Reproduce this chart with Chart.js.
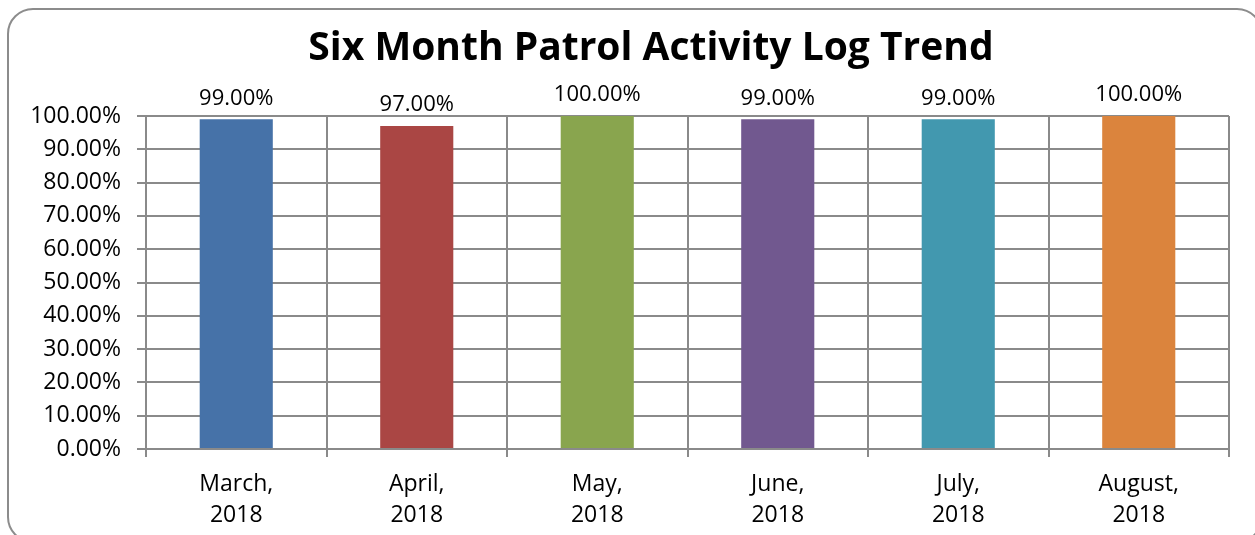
<!DOCTYPE html>
<html>
<head>
<meta charset="utf-8">
<script src="https://cdn.jsdelivr.net/npm/chart.js@4"></script>
<style>
    html, body { margin: 0; padding: 0; background: #fff; overflow: hidden; }
    #marco {
        position: absolute; left: 7px; top: 8px; width: 1256px; height: 535px;
        border: 2px solid #8c8c8c; border-radius: 26px; box-sizing: border-box;
    }
    #caja { position: absolute; left: 0; top: 0; width: 1255px; height: 535px; }
</style>
</head>
<body>
<div id="marco"></div>
<div id="caja"><canvas id="patrolChart" width="1255" height="535"></canvas></div>

<script>
    // Datos
    const meses = [['March,', '2018'], ['April,', '2018'], ['May,', '2018'], ['June,', '2018'], ['July,', '2018'], ['August,', '2018']];
    const porcentajes = [0.99, 0.97, 1.00, 0.99, 0.99, 1.00];
    const colores = ['#4672A8', '#AA4644', '#89A54E', '#71588F', '#4298AF', '#DB843D'];
    const tituloTexto = 'Six Month Patrol Activity Log Trend';

    const gris = '#8a8a8a';
    const fuente = "'Open Sans', sans-serif";

    // Titulo y etiquetas sobre las barras
    const textosPlugin = {
        id: 'textos',
        afterDatasetsDraw(chart) {
            const ctx = chart.ctx;
            ctx.save();
            ctx.fillStyle = '#000';
            ctx.textAlign = 'center';
            ctx.textBaseline = 'middle';
            ctx.font = 'bold 39px ' + fuente;
            ctx.fillText(tituloTexto, 651, 49);

            ctx.font = '22px ' + fuente;
            const meta = chart.getDatasetMeta(0);
            meta.data.forEach((bar, i) => {
                const txt = (porcentajes[i] * 100).toFixed(2) + '%';
                ctx.fillText(txt, bar.x, bar.y - 21);
            });
            ctx.restore();
        }
    };

    const ctx = document.getElementById('patrolChart').getContext('2d');
    new Chart(ctx, {
        type: 'bar',
        data: {
            labels: meses,
            datasets: [{
                data: porcentajes,
                backgroundColor: colores,
                borderWidth: 0,
                categoryPercentage: 1,
                barPercentage: 0.405
            }]
        },
        options: {
            responsive: false,
            animation: false,
            layout: { padding: { top: 116, right: 26, left: 0, bottom: 0 } },
            plugins: {
                legend: { display: false },
                title: { display: false },
                tooltip: { enabled: false }
            },
            scales: {
                x: {
                    grid: { color: gris, lineWidth: 2, offset: true, tickLength: 8 },
                    border: { color: gris, width: 2 },
                    ticks: {
                        color: '#000',
                        padding: 12,
                        maxRotation: 0,
                        font: { family: fuente, size: 23, lineHeight: '31px' }
                    },
                    afterFit(scale) { scale.height = 86; }
                },
                y: {
                    min: 0,
                    max: 1,
                    grid: { color: gris, lineWidth: 2, tickLength: 9 },
                    border: { color: gris, width: 2 },
                    ticks: {
                        stepSize: 0.1,
                        color: '#000',
                        padding: 16,
                        font: { family: fuente, size: 23 },
                        callback: v => (v * 100).toFixed(2) + '%'
                    },
                    afterFit(scale) { scale.width = 146; }
                }
            }
        },
        plugins: [textosPlugin]
    });
</script>
</body>
</html>
